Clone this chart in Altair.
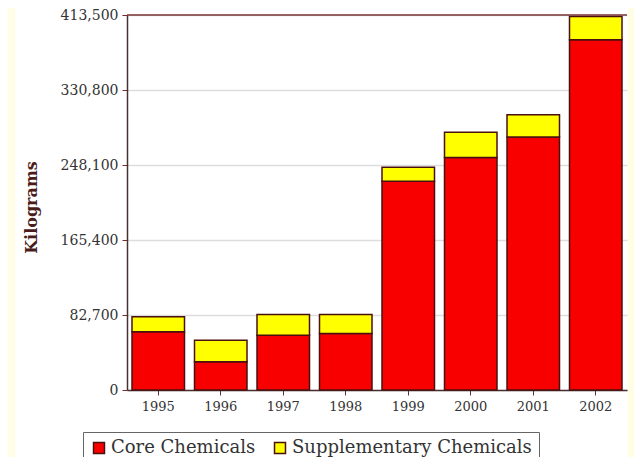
import altair as alt
import pandas as pd

years = ["1995", "1996", "1997", "1998", "1999", "2000", "2001", "2002"]
core = [64100, 31100, 60400, 62300, 230100, 256500, 279000, 386300]
supplementary = [16600, 23800, 22800, 20900, 15400, 27600, 24600, 25600]
series = ["Core Chemicals", "Supplementary Chemicals"]
y_ticks = [0, 82700, 165400, 248100, 330800, 413500]

rows = []
for i, yr in enumerate(years):
    rows.append({"Year": yr, "Series": series[0], "Kg": core[i], "ord": 0})
    rows.append({"Year": yr, "Series": series[1], "Kg": supplementary[i], "ord": 1})
df = pd.DataFrame(rows)

FONT = "DejaVu Serif"
DARK = "#4a1c1c"

bars = alt.Chart(df).mark_bar(stroke="#4a1010", strokeWidth=1.5).encode(
    x=alt.X("Year:N", sort=years,
            scale=alt.Scale(paddingInner=0.16, paddingOuter=0.08),
            axis=alt.Axis(title=None, labelAngle=0, labelFont=FONT, labelFontSize=13,
                          labelColor="#333333", labelPadding=5, tickSize=5,
                          tickColor="#5a3030", domainColor="#4a3030", domainWidth=1.5,
                          grid=False)),
    y=alt.Y("Kg:Q", stack="zero",
            scale=alt.Scale(domain=[0, 413500], nice=False),
            axis=alt.Axis(title="Kilograms", values=y_ticks, format=",d",
                          labelFont=FONT, labelFontSize=14, labelColor="#333333",
                          labelPadding=4, tickSize=5, tickColor="#7a2a2a",
                          domainColor="#4a3030", domainWidth=1.5,
                          gridColor="#dddddd", gridWidth=1.5,
                          titleFont=FONT, titleFontSize=16, titleFontWeight="bold",
                          titleColor=DARK, titlePadding=21, titleY=192)),
    color=alt.Color("Series:N", sort=series,
                    scale=alt.Scale(domain=series, range=["#f80000", "#ffff00"]),
                    legend=alt.Legend(title=None, orient="none", legendX=-44, legendY=417,
                                      direction="horizontal", symbolType="square",
                                      symbolSize=120, symbolStrokeColor="#4a1010",
                                      symbolStrokeWidth=1.5, labelFont=FONT,
                                      labelFontSize=18, labelColor="#333333",
                                      labelLimit=400,
                                      strokeColor="#666666", padding=7,
                                      columnPadding=15, labelOffset=3)),
    order=alt.Order("ord:Q", sort="ascending"),
)

top_line = alt.Chart(pd.DataFrame({"v": [y_ticks[-1]]})).mark_rule(
    color="#7a3535", strokeWidth=1.5).encode(y="v:Q")

strip = pd.DataFrame({"a": [0]})
left_strip = alt.Chart(strip).mark_rect(color="#fffde3").encode(
    x=alt.value(-120), x2=alt.value(-112), y=alt.value(-8), y2=alt.value(460))
right_strip = alt.Chart(strip).mark_rect(color="#fffde3").encode(
    x=alt.value(501), x2=alt.value(510), y=alt.value(-8), y2=alt.value(460))

chart = alt.layer(left_strip, right_strip, bars, top_line).properties(
    width=500, height=375,
    autosize=alt.AutoSizeParams(type="none"),
    padding={"left": 119, "top": 7, "right": 7, "bottom": 67},
    background="white",
).configure_view(stroke=None)

chart.save("out.html", embed_options={"renderer": "svg", "actions": False})
